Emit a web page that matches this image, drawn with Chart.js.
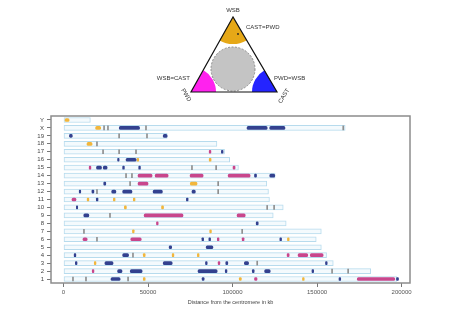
<!DOCTYPE html>
<html>
<head>
<meta charset="utf-8">
<script src="https://cdn.jsdelivr.net/npm/chart.js@4/dist/chart.umd.min.js"></script>
<style>
  html, body { margin: 0; padding: 0; background: #fff; }
  canvas { display: block; }
</style>
</head>
<body>
<canvas id="chart" width="462" height="321"></canvas>
<script>
// chromosomes top to bottom, lengths in kb
const chromosomes = ['Y', 'X', '19', '18', '17', '16', '15', '14', '13', '12', '11', '10', '9', '8', '7', '6', '5', '4', '3', '2', '1'];
const lengths = [15902, 166650, 61342, 90772, 95272, 98319, 103494, 125194, 120284, 121257, 121843, 129993, 124076, 131738, 152524, 149517, 152537, 155630, 159599, 181748, 197195];
const xTicks = [0, 50000, 100000, 150000, 200000];

// segments: [chromosome, start, end]
const castSegs = [
  ['X', 33000, 45000], ['X', 108600, 120500], ['X', 122000, 131000],
  ['19', 3500, 5200], ['19', 59000, 61300],
  ['17', 93400, 94400],
  ['16', 32000, 32900], ['16', 37000, 43000],
  ['15', 19500, 22500], ['15', 23500, 25800], ['15', 35000, 36000], ['15', 44500, 45500],
  ['14', 113000, 114200], ['14', 122000, 125000],
  ['13', 23800, 25000],
  ['12', 9300, 10200], ['12', 16800, 18000], ['12', 28500, 31000], ['12', 35000, 40500], ['12', 53000, 58500], ['12', 76000, 78000],
  ['11', 19400, 20400], ['11', 72700, 73700],
  ['10', 7600, 8400],
  ['9', 12000, 15000],
  ['8', 114000, 115200],
  ['6', 81900, 82900], ['6', 86000, 87000], ['6', 128000, 129000],
  ['5', 62500, 64000], ['5', 84400, 88400],
  ['4', 6300, 7300], ['4', 35000, 38500],
  ['3', 7000, 8000], ['3', 24500, 29300], ['3', 59000, 64300], ['3', 84000, 85000], ['3', 96000, 97200], ['3', 107000, 109500], ['3', 155000, 156000],
  ['2', 32000, 34600], ['2', 39500, 46500], ['2', 79600, 90900], ['2', 95700, 96700], ['2', 111700, 112800], ['2', 119000, 122300], ['2', 147000, 148000],
  ['1', 28100, 33500], ['1', 82000, 83200], ['1', 163000, 164000], ['1', 197000, 198200]
];
const pwdSegs = [
  ['17', 86200, 87200],
  ['15', 15200, 16200], ['15', 100300, 101500],
  ['14', 44100, 52400], ['14', 54200, 61900], ['14', 74900, 82600], ['14', 97400, 110400],
  ['13', 44100, 50000],
  ['11', 5000, 7400],
  ['9', 47700, 70700], ['9', 102700, 107500],
  ['8', 55000, 56000],
  ['6', 11500, 14000], ['6', 39800, 46000], ['6', 91000, 92000], ['6', 105700, 106800],
  ['4', 132300, 133500], ['4', 138800, 144500], ['4', 146000, 153600],
  ['3', 91500, 92500],
  ['2', 17000, 18000],
  ['1', 113000, 114500], ['1', 173800, 196000]
];
const wsbSegs = [
  ['Y', 900, 3300],
  ['X', 19000, 22000],
  ['18', 13900, 16900],
  ['16', 43500, 44500], ['16', 86200, 87300],
  ['13', 75000, 79000],
  ['11', 14000, 15000], ['11', 29500, 30500], ['11', 41300, 42300],
  ['10', 36000, 37200], ['10', 58000, 59200],
  ['7', 40800, 41800], ['7', 86500, 87500],
  ['6', 132500, 133500],
  ['4', 47200, 48300], ['4', 64300, 65300], ['4', 79200, 80200],
  ['3', 18200, 19200],
  ['1', 47200, 48300], ['1', 104000, 105200], ['1', 141400, 142400]
];
const mixedMarks = [
  ['X', 24000], ['X', 26300], ['X', 48800], ['X', 165500],
  ['19', 32900], ['19', 49400],
  ['18', 19800],
  ['17', 23400], ['17', 32900], ['17', 42900],
  ['15', 76000], ['15', 90300],
  ['14', 37000], ['14', 40500],
  ['13', 39400], ['13', 91500],
  ['12', 19800], ['12', 91500],
  ['10', 120500], ['10', 124600],
  ['9', 27500],
  ['7', 12100], ['7', 105700],
  ['6', 19800],
  ['4', 41100],
  ['3', 114600],
  ['2', 158900], ['2', 168400],
  ['1', 5600], ['1', 13300], ['1', 38200]
];

function segData(list) {
  return list.map(s => ({ y: s[0], x: [s[1], s[2]] }));
}

const chromData = chromosomes.map((c, i) => ({ y: c, x: [0, lengths[i]] }));
const mixedData = mixedMarks.map(m => ({ y: m[0], x: [m[1] - 300, m[1] + 300] }));

// triangle key in the top area
const trianglePlugin = {
  id: 'triangleKey',
  afterDraw(chart) {
    const ctx = chart.ctx;
    const A = [233, 17], B = [191, 92], C = [277, 92];
    ctx.save();
    function sector(p, r, a1, a2, color) {
      ctx.beginPath();
      ctx.moveTo(p[0], p[1]);
      ctx.arc(p[0], p[1], r, a1, a2);
      ctx.closePath();
      ctx.fillStyle = color;
      ctx.fill();
    }
    const d = Math.PI / 180;
    sector(A, 27, 60 * d, 120 * d, '#e6a817');
    sector(B, 25, -60 * d, 0, '#ff22ee');
    sector(C, 25, 180 * d, 240 * d, '#2424ff');
    // central circle
    ctx.beginPath();
    ctx.arc(233, 69, 22, 0, Math.PI * 2);
    ctx.fillStyle = '#c4c4c4';
    ctx.fill();
    ctx.setLineDash([2, 1.5]);
    ctx.strokeStyle = '#8a8a8a';
    ctx.lineWidth = 1;
    ctx.stroke();
    ctx.setLineDash([]);
    // small dot
    ctx.beginPath();
    ctx.arc(238, 34, 0.9, 0, Math.PI * 2);
    ctx.fillStyle = '#222';
    ctx.fill();
    // triangle outline
    ctx.beginPath();
    ctx.moveTo(A[0], A[1]);
    ctx.lineTo(B[0], B[1]);
    ctx.lineTo(C[0], C[1]);
    ctx.closePath();
    ctx.strokeStyle = '#111';
    ctx.lineWidth = 1.2;
    ctx.stroke();
    // labels
    ctx.fillStyle = '#333';
    ctx.font = '6px "Liberation Sans", Arial, sans-serif';
    ctx.textBaseline = 'middle';
    ctx.textAlign = 'center';
    ctx.fillText('WSB', 233, 10);
    ctx.textAlign = 'left';
    ctx.fillText('CAST=PWD', 246, 27);
    ctx.fillText('PWD=WSB', 274, 78);
    ctx.textAlign = 'right';
    ctx.fillText('WSB=CAST', 190, 78);
    ctx.textAlign = 'center';
    ctx.save();
    ctx.translate(186, 95);
    ctx.rotate(58 * d);
    ctx.fillText('PWD', 0, 0);
    ctx.restore();
    ctx.save();
    ctx.translate(284, 96);
    ctx.rotate(-58 * d);
    ctx.fillText('CAST', 0, 0);
    ctx.restore();
    ctx.restore();
  }
};

// box around the plot area
const framePlugin = {
  id: 'frame',
  afterDatasetsDraw(chart) {
    const a = chart.chartArea;
    const ctx = chart.ctx;
    ctx.save();
    ctx.strokeStyle = '#8c8c8c';
    ctx.lineWidth = 1.5;
    ctx.strokeRect(a.left, a.top, a.right - a.left, a.bottom - a.top);
    ctx.restore();
  }
};

const segStyle = {
  barThickness: 3,
  grouped: false,
  borderSkipped: false,
  borderRadius: 1.5,
  order: 1
};

new Chart(document.getElementById('chart'), {
  type: 'bar',
  data: {
    labels: chromosomes,
    datasets: [
      {
        label: 'chromosome',
        data: chromData,
        backgroundColor: '#f4fafd',
        borderColor: '#b7dbed',
        borderWidth: 1,
        borderSkipped: false,
        barThickness: 5,
        grouped: false,
        order: 2
      },
      Object.assign({ label: 'CAST', data: segData(castSegs), backgroundColor: '#33418f' }, segStyle),
      Object.assign({ label: 'PWD', data: segData(pwdSegs), backgroundColor: '#c9468c' }, segStyle),
      Object.assign({ label: 'WSB', data: segData(wsbSegs), backgroundColor: '#f2b63c' }, segStyle),
      Object.assign({ label: 'mixed', data: mixedData, backgroundColor: '#8f8f8f' }, segStyle, { borderRadius: 0, barThickness: 4 })
    ]
  },
  options: {
    indexAxis: 'y',
    responsive: false,
    devicePixelRatio: 1,
    animation: false,
    layout: { padding: { top: 116, right: 52, left: 0, bottom: 11 } },
    plugins: {
      legend: { display: false },
      tooltip: { enabled: false }
    },
    scales: {
      x: {
        type: 'linear',
        min: -7400,
        max: 205000,
        afterFit: (scale) => { scale.height = 27; },
        afterBuildTicks: (scale) => { scale.ticks = xTicks.map(v => ({ value: v })); },
        ticks: {
          color: '#555',
          font: { size: 6, family: '"Liberation Sans", Arial, sans-serif' },
          padding: 2,
          maxRotation: 0,
          callback: (v) => String(v)
        },
        grid: { drawOnChartArea: false, tickLength: 4, color: '#777', lineWidth: 1 },
        border: { display: false },
        title: {
          display: true,
          text: 'Distance from the centromere in kb',
          color: '#444',
          font: { size: 5.5, family: '"Liberation Sans", Arial, sans-serif' }
        }
      },
      y: {
        type: 'category',
        offset: true,
        afterFit: (scale) => { scale.width = 51; },
        ticks: {
          color: '#444',
          font: { size: 6, family: '"Liberation Sans", Arial, sans-serif' },
          padding: 3,
          autoSkip: false
        },
        grid: { drawOnChartArea: false, offset: false, tickLength: 4, color: '#777', lineWidth: 1 },
        border: { display: false }
      }
    }
  },
  plugins: [trianglePlugin, framePlugin]
});
</script>
</body>
</html>
